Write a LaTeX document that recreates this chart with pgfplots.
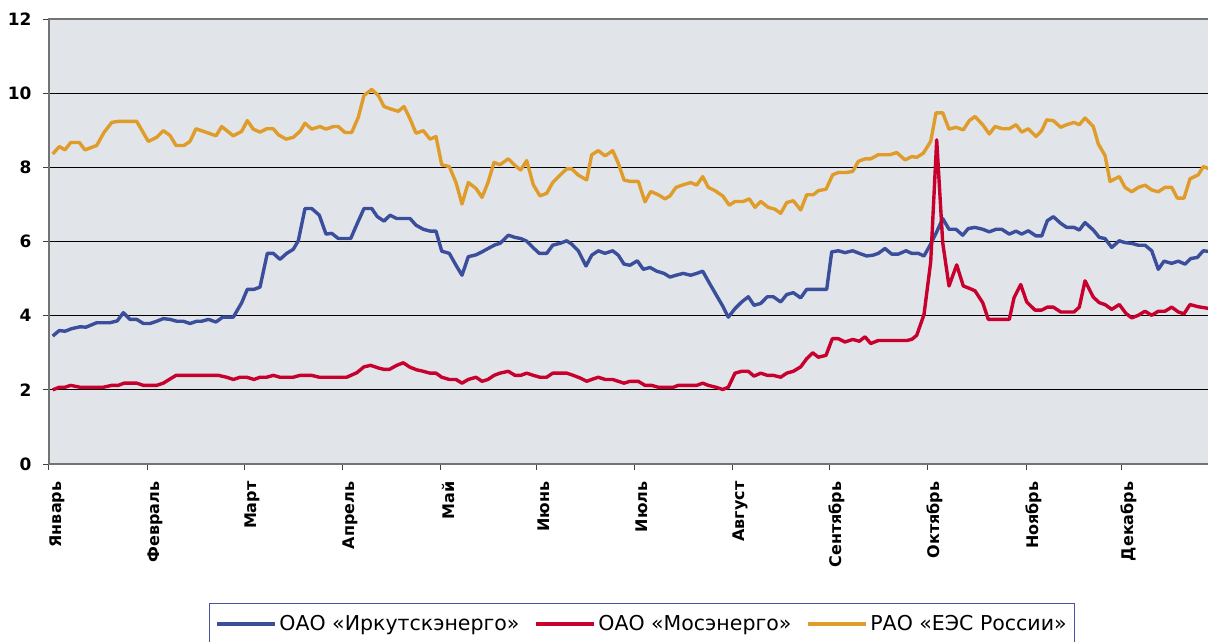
\documentclass[border=0pt]{standalone}
\usepackage{fontspec}
\setmainfont{DejaVu Sans}
\usepackage{pgfplots}
\pgfplotsset{compat=1.18}
\usepackage{pgfplotstable}
\definecolor{cblue}{RGB}{59,78,155}
\definecolor{cred}{RGB}{200,0,46}
\definecolor{corange}{RGB}{224,156,42}
\definecolor{bgcol}{RGB}{225,229,233}
\definecolor{legbord}{RGB}{70,85,160}

\pgfplotstableread{
t v
52.7 8.36
59.3 8.56
65 8.47
70.7 8.67
79.3 8.67
85 8.47
96.7 8.59
104 8.94
111.7 9.21
118.3 9.24
136.7 9.24
148.3 8.70
156.7 8.81
163.3 8.99
170 8.86
176 8.59
184 8.59
190 8.70
196 9.04
206.7 8.94
216 8.85
221.7 9.10
233.3 8.85
241.7 8.97
247.3 9.26
253.3 9.03
260 8.95
266.7 9.04
273.3 9.04
278.3 8.88
286 8.76
293.3 8.81
300 8.97
305 9.19
311.7 9.03
320 9.10
326 9.03
333.3 9.10
338.3 9.10
345 8.94
351.7 8.94
358.3 9.35
364 9.94
371.7 10.10
378.3 9.94
384 9.64
390 9.58
398.3 9.51
404 9.64
410 9.31
416 8.92
423.3 8.99
430 8.76
436 8.83
441.7 8.07
449.3 8.02
456 7.59
462 7.01
468.3 7.59
476 7.43
482 7.19
488 7.59
494 8.13
500 8.07
508.3 8.23
515 8.05
520.7 7.93
526.7 8.18
533.3 7.53
540 7.23
546.7 7.30
552.7 7.59
560 7.79
566.7 7.96
571.7 7.96
578.3 7.79
586.7 7.66
591.7 8.34
598.3 8.45
605 8.31
612.7 8.45
618.3 8.11
624 7.66
630 7.62
638.3 7.62
645 7.07
650.7 7.35
658.3 7.26
665 7.15
670 7.23
676 7.46
683.3 7.53
690.7 7.59
696.7 7.52
702.7 7.75
708.3 7.46
715 7.37
722.7 7.23
729.3 6.98
735 7.08
743.3 7.08
749.3 7.15
755 6.92
760.7 7.08
768.3 6.92
775 6.87
780.7 6.76
786.7 7.05
793.3 7.10
800.7 6.85
806.7 7.26
813.3 7.26
818.3 7.37
826 7.41
832.7 7.80
838.3 7.86
846 7.86
852.7 7.89
858.3 8.16
865 8.23
870.7 8.23
878.3 8.34
890 8.34
896.7 8.40
905 8.20
911.7 8.29
916.7 8.27
923.3 8.38
930.7 8.70
936 9.47
942.7 9.47
949 9.03
956 9.08
963.3 9.01
969.3 9.26
975 9.37
982.7 9.15
989.3 8.90
995 9.10
1002.7 9.04
1009.3 9.04
1016 9.15
1021.7 8.95
1028.3 9.04
1036 8.83
1041.7 8.99
1046.7 9.28
1053.3 9.26
1060.7 9.08
1066.7 9.15
1074 9.21
1079.3 9.15
1085 9.33
1093.3 9.10
1098.3 8.63
1105 8.32
1110 7.62
1119.3 7.75
1125 7.46
1131.7 7.34
1138.3 7.46
1145 7.52
1151.7 7.39
1158.3 7.34
1165 7.46
1171.7 7.46
1177.3 7.17
1184 7.17
1190 7.69
1198.3 7.80
1203.3 8.02
1210 7.95
}\raotable

\pgfplotstableread{
t v
52.7 3.45
59.3 3.60
65 3.58
71.7 3.65
80 3.70
86 3.69
96.7 3.81
110 3.81
117.3 3.86
123.3 4.08
130 3.90
136.7 3.90
143.3 3.79
150 3.79
156.7 3.85
163.3 3.92
170 3.90
176.7 3.85
183.3 3.85
190 3.79
196.7 3.85
201.7 3.85
208.3 3.90
216 3.83
222.7 3.96
233.3 3.96
241.7 4.35
247.3 4.71
254 4.71
260 4.77
267.3 5.68
273.3 5.68
280 5.52
286.7 5.68
293.3 5.79
298.3 6.02
305 6.89
311.7 6.89
319.3 6.71
326 6.20
331.7 6.22
338.3 6.08
345 6.08
350.7 6.08
357.3 6.49
364 6.89
371.7 6.89
377.3 6.67
384 6.55
390 6.71
396.7 6.62
403.3 6.62
410 6.62
416 6.44
423.3 6.33
430 6.28
436 6.28
441.7 5.74
449.3 5.68
456 5.36
462 5.09
468.3 5.59
476 5.64
482 5.72
488 5.81
495 5.91
500 5.95
508.3 6.17
515 6.11
520.7 6.08
526.7 6.01
533.3 5.83
539.3 5.68
546.7 5.68
552.7 5.90
560 5.95
566.7 6.02
571.7 5.93
578.3 5.75
586 5.34
591.7 5.63
598.3 5.75
605 5.68
612.7 5.75
618.3 5.63
624 5.39
630 5.36
637.3 5.48
643.3 5.25
650 5.30
656.7 5.20
664 5.14
670 5.04
676 5.09
683.3 5.14
690.7 5.09
696.7 5.14
702.7 5.20
710 4.85
716 4.57
722.7 4.26
728.3 3.96
735 4.19
741.7 4.37
748.3 4.51
754 4.28
760.7 4.33
767.3 4.51
773.3 4.51
780.7 4.37
786.7 4.57
793.3 4.62
800.7 4.48
806.7 4.71
826.7 4.71
831.7 5.72
838.3 5.75
845 5.70
852.7 5.75
859.3 5.68
866.7 5.61
872.7 5.63
878.3 5.68
885 5.81
891.7 5.66
898.3 5.66
906 5.75
911.7 5.68
918.3 5.68
924 5.61
930.7 5.93
936.7 6.26
942.7 6.62
949 6.33
956 6.33
962.7 6.17
968.3 6.35
975 6.38
982.7 6.33
989.3 6.26
996 6.33
1001.7 6.33
1009.3 6.20
1016 6.28
1021.7 6.20
1028.3 6.29
1036 6.15
1041.7 6.15
1047.3 6.56
1053.3 6.67
1060.7 6.49
1066.7 6.38
1074 6.38
1079.3 6.31
1085 6.51
1093.3 6.31
1099.3 6.11
1105 6.08
1111.7 5.84
1119.3 6.02
1125 5.97
1131.7 5.95
1138.3 5.90
1145 5.90
1151.7 5.75
1158.3 5.25
1164 5.47
1171.7 5.41
1178.3 5.47
1185 5.39
1190.7 5.54
1197.3 5.57
1203.3 5.75
1210 5.73
}\irktable

\pgfplotstableread{
t v
52.7 2.00
59.3 2.07
65 2.07
70.7 2.12
80 2.07
103.3 2.07
111.7 2.12
118.3 2.12
124 2.18
136.7 2.18
143.3 2.12
156.7 2.12
163.3 2.18
169.3 2.28
176 2.39
218.3 2.39
226.7 2.34
233.3 2.28
240 2.34
246.7 2.34
254 2.28
260 2.34
266.7 2.34
273.3 2.39
280 2.34
293.3 2.34
300 2.39
311.7 2.39
319.3 2.34
346.7 2.34
356.7 2.46
364 2.62
370.7 2.66
378.3 2.59
384 2.55
389.3 2.55
396.7 2.66
403.3 2.73
410 2.61
416.7 2.54
423.3 2.50
430 2.45
436 2.45
441.7 2.34
449.3 2.28
456 2.28
462 2.18
468.3 2.28
476 2.34
482 2.23
488 2.28
494 2.39
500 2.45
508.3 2.50
515 2.39
520.7 2.39
526.7 2.45
533.3 2.39
540 2.34
546.7 2.34
552.7 2.45
566.7 2.45
573.3 2.39
580 2.32
586.7 2.23
591.7 2.28
598.3 2.34
605 2.28
612.7 2.28
618.3 2.23
624 2.18
630 2.23
638.3 2.23
645 2.12
651.7 2.12
658.3 2.07
673.3 2.07
678.3 2.12
696.7 2.12
702.7 2.18
708.3 2.12
716 2.07
722.7 2.01
728.3 2.07
735 2.45
741.7 2.50
748.3 2.50
754 2.37
760.7 2.45
767.3 2.39
773.3 2.39
780.7 2.34
786.7 2.45
793.3 2.50
800.7 2.62
806.7 2.84
812.7 3.00
818.3 2.88
826 2.93
832.3 3.38
838.3 3.38
845 3.29
852.7 3.36
859.3 3.31
865 3.43
870.7 3.25
878.3 3.33
906.7 3.33
911.7 3.36
916.7 3.47
924 4.03
930.7 5.45
936.7 8.74
942.7 5.97
949 4.80
956.7 5.37
963.3 4.80
970 4.73
975 4.67
982.7 4.35
988.3 3.90
1009.3 3.90
1014 4.48
1020.7 4.84
1026.7 4.37
1035 4.15
1041.7 4.15
1047.3 4.23
1053.3 4.23
1060.7 4.10
1066.7 4.10
1074 4.10
1079.3 4.23
1085 4.94
1093.3 4.50
1099.3 4.35
1105 4.30
1111.7 4.17
1119.3 4.30
1126 4.06
1131.7 3.94
1138.3 4.01
1145 4.12
1151.7 4.01
1158.3 4.12
1165 4.12
1171.7 4.23
1178.3 4.10
1184 4.05
1190 4.30
1198.3 4.24
1210 4.19
}\mostable

\begin{document}
\begin{tikzpicture}
\begin{axis}[
  at={(0pt,0pt)}, anchor=south west,
  scale only axis,
  width=1165pt, height=445pt,
  xmin=49, xmax=1214,
  ymin=0, ymax=12,
  ytick={0,2,...,12},
  xtick={49,147,244,342,440,536,634,732,829,927,1026,1121},
  xticklabels={Январь,Февраль,Март,Апрель,Май,Июнь,Июль,Август,Сентябрь,Октябрь,Ноябрь,Декабрь},
  xtick pos=bottom, ytick pos=left,
  tick align=outside,
  major tick length=6pt,
  tick style={black!75, line width=1pt},
  axis line style={black!55, line width=1.2pt},
  axis background/.style={fill=bgcol},
  ymajorgrids,
  major grid style={black, line width=0.9pt},
  /pgf/number format/assume math mode=true,
  yticklabel style={font=\fontsize{17}{17}\selectfont\bfseries, anchor=east, xshift=-8pt},
  xticklabel style={font=\fontsize{16}{16}\selectfont\bfseries, xshift=8pt, yshift=-8pt, rotate=90, anchor=east},
  legend columns=3,
  legend style={at={(axis description cs:0.1373,-0.3124)}, anchor=north west,
    draw=legbord, line width=1pt, fill=white,
    font=\fontsize{20.5}{20.5}\selectfont,
    inner xsep=6pt, inner ysep=10pt,
    /tikz/every even column/.append style={column sep=13pt}},
  legend image code/.code={\draw[#1, line width=4pt] (0pt,0pt) -- (58pt,0pt);},
  legend cell align=left,
]
\addplot[cblue, line width=3.4pt, line join=round] table[x=t,y=v] {\irktable};
\addlegendentry{ОАО «Иркутскэнерго»}
\addplot[cred, line width=3.4pt, line join=round] table[x=t,y=v] {\mostable};
\addlegendentry{ОАО «Мосэнерго»}
\addplot[corange, line width=3.4pt, line join=round] table[x=t,y=v] {\raotable};
\addlegendentry{РАО «ЕЭС России»}
\end{axis}
\pgfresetboundingbox
\useasboundingbox (-49pt,-177pt) rectangle (1159pt,464pt);
\end{tikzpicture}
\end{document}
